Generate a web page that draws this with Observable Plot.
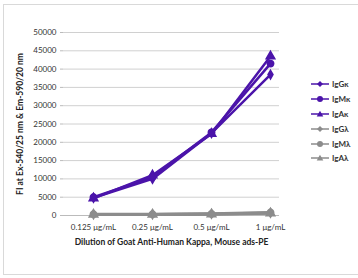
<!DOCTYPE html>
<html><head><meta charset="utf-8">
<script src="https://cdn.jsdelivr.net/npm/d3@7"></script>
<script src="https://cdn.jsdelivr.net/npm/@observablehq/plot@0.6"></script>
<style>
body{margin:0;background:#fff;font-family:Lato,"Open Sans",sans-serif;}
#wrap{position:relative;width:358px;height:278px;}
#frame{position:absolute;left:3px;top:4px;width:360px;height:271px;border:1px solid #d9d9d9;box-sizing:border-box;}
#legend{position:absolute;left:311px;top:77px;font:bold 8px Lato,sans-serif;color:#333;}
#legend div{height:14.8px;display:flex;align-items:center;}
</style></head>
<body><div id="wrap"><div id="frame"></div><div id="chart"></div><div id="legend"></div></div>
<script>
const categories = ["0.125 μg/mL", "0.25 μg/mL", "0.5 μg/mL", "1 μg/mL"];
const seriesNames = ["IgGκ", "IgMκ", "IgAκ", "IgGλ", "IgMλ", "IgAλ"];
const IgGk = [4800, 10000, 22500, 38500];
const IgMk = [5000, 10500, 22700, 41500];
const IgAk = [4700, 11000, 22300, 43500];
const IgGl = [300, 300, 400, 700];
const IgMl = [350, 350, 450, 800];
const IgAl = [250, 300, 350, 600];
const yTicks = [0,5000,10000,15000,20000,25000,30000,35000,40000,45000,50000];

const purple = "#4b14aa", grey = "#8c8c8c";
const symbols = ["diamond", "circle", "triangle", "diamond", "circle", "triangle"];
const colors = [purple, purple, purple, grey, grey, grey];
const allValues = [IgGk, IgMk, IgAk, IgGl, IgMl, IgAl];
const data = [];
allValues.forEach((vals, i) => vals.forEach((v, j) => data.push({series: seriesNames[i], cat: categories[j], value: v, idx: i})));
const order = [3,4,5,0,1,2];

const marks = [
  Plot.gridY(yTicks, {stroke: "#d0d0d0", strokeOpacity: 1}),
  Plot.axisY(yTicks, {tickFormat: d => String(d), tickSize: 3, tickPadding: 4, fontSize: 8, fill: "#333", stroke: "#bbb", label: null}),
  Plot.ruleX([0], {frameAnchor:"left", stroke:"#bbb"}),
  Plot.ruleY([0], {stroke: "#bbb"}),
  Plot.axisX({tickSize: 0, tickPadding: 9, fontSize: 8, fill: "#333", label: null}),
  Plot.text(["Dilution of Goat Anti-Human Kappa, Mouse ads-PE"], {frameAnchor: "bottom", dy: 29, fontWeight: "bold", fontSize: 8.5, fill: "#222"}),
  Plot.text(["FI at Ex-540/25 nm & Em-590/20 nm"], {frameAnchor: "left", textAnchor: "middle", dx: -43, rotate: -90, fontWeight: "bold", fontSize: 8.5, fill: "#222"})
];
order.forEach(i => {
  const d = data.filter(r => r.idx === i);
  const w = i < 3 ? 2.5 : 3;
  marks.push(Plot.line(d, {x: "cat", y: "value", stroke: colors[i], strokeWidth: w}));
  marks.push(Plot.dot(d, {x: "cat", y: "value", symbol: () => symbols[i], fill: colors[i], stroke: colors[i], r: i === 0 || i === 3 ? 2.6 : 3.2}));
});

const chart = Plot.plot({
  width: 358, height: 278,
  marginLeft: 63, marginRight: 79, marginTop: 32, marginBottom: 63,
  style: {fontFamily: "Lato, 'Open Sans', sans-serif", background: "transparent"},
  x: {type: "point", domain: categories, padding: 0, insetLeft: 30, insetRight: 9, axis: null},
  y: {domain: [0, 50000], axis: null},
  symbol: {type: "identity"},
  marks
});
document.getElementById("chart").appendChild(chart);

const leg = document.getElementById("legend");
seriesNames.forEach((name, i) => {
  const row = document.createElement("div");
  const sym = symbols[i];
  let shape;
  if (sym === "circle") shape = `<circle cx="9" cy="5" r="3" fill="${colors[i]}"/>`;
  else if (sym === "triangle") shape = `<path d="M9,1.8L12.3,7.5L5.7,7.5Z" fill="${colors[i]}"/>`;
  else shape = `<path d="M9,2L12,5L9,8L6,5Z" fill="${colors[i]}"/>`;
  row.innerHTML = `<svg width="19" height="10" style="margin-right:2px"><line x1="0" x2="18" y1="5" y2="5" stroke="${colors[i]}" stroke-width="1.5"/>${shape}</svg><span style="color:#333">${name}</span>`;
  leg.appendChild(row);
});
</script></body></html>
